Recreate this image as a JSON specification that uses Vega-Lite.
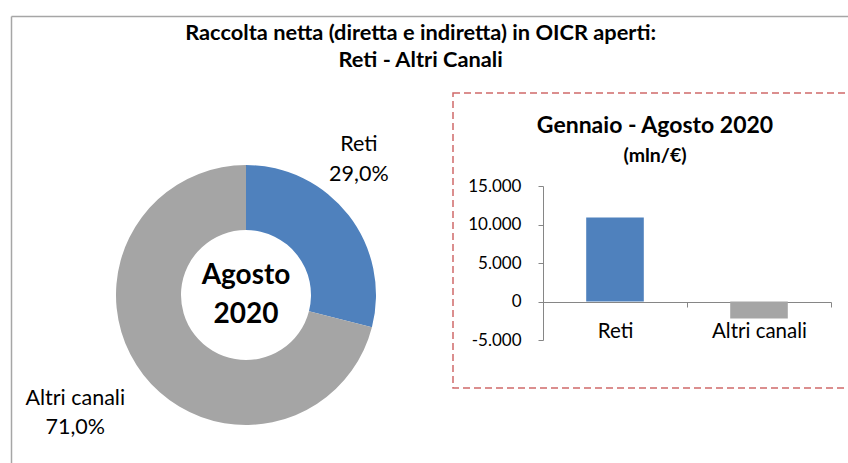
{
  "$schema": "https://vega.github.io/schema/vega-lite/v6.json",
  "padding": {"left": 8, "top": 13, "right": 0, "bottom": 0},
  "background": "white",
  "config": {
    "locale": {"number": {"decimal": ",", "thousands": ".", "grouping": [3], "currency": ["", " €"], "minus": "-"}},
    "font": "Lato",
    "view": {"stroke": null}
  },
  "title": {
    "text": ["Raccolta netta (diretta e indiretta) in OICR aperti:", "Reti - Altri Canali"],
    "fontSize": 21.8,
    "fontWeight": "bold",
    "color": "#000000",
    "anchor": "middle",
    "frame": "bounds",
    "offset": -59,
    "lineHeight": 27,
    "dx": -47
  },
  "spacing": 0,
  "bounds": "flush",
  "hconcat": [
    {
      "width": 414,
      "height": 404,
      "data": {"values": [
        {"canale": "Reti", "quota": 0.29},
        {"canale": "Altri canali", "quota": 0.71}
      ]},
      "layer": [
        {
          "data": {"values": [{"bordo": 0}]},
          "mark": {"type": "point", "opacity": 0},
          "encoding": {
            "x": {"field": "bordo", "type": "quantitative", "scale": {"domain": [0, 1], "range": [-28, 860]}, "axis": {"orient": "top", "offset": 77, "domain": true, "domainColor": "#A6A6A6", "domainWidth": 1.5, "ticks": false, "labels": false, "grid": false, "title": null}},
            "y": {"field": "bordo", "type": "quantitative", "scale": {"domain": [0, 1], "range": [-77, 520]}, "axis": {"orient": "left", "offset": 28, "domain": true, "domainColor": "#A6A6A6", "domainWidth": 1.5, "ticks": false, "labels": false, "grid": false, "title": null}}
          }
        },
        {
          "mark": {"type": "arc", "radius": 130, "radius2": 65},
          "encoding": {
            "theta": {"field": "quota", "type": "quantitative", "stack": true},
            "order": {"field": "quota", "type": "quantitative", "sort": "ascending"},
            "color": {"field": "canale", "type": "nominal", "scale": {"domain": ["Reti", "Altri canali"], "range": ["#4F81BD", "#A5A5A5"]}, "legend": null}
          }
        },
        {
          "mark": {"type": "text", "radius": 177, "dx": -27, "dy": -42, "fontSize": 21.5, "baseline": "middle"},
          "encoding": {
            "theta": {"field": "quota", "type": "quantitative", "stack": true},
            "order": {"field": "quota", "type": "quantitative", "sort": "ascending"},
            "text": {"field": "canale", "type": "nominal"},
            "color": {"value": "#000000"},
            "opacity": {"condition": {"test": "datum.canale === 'Reti'", "value": 1}, "value": 0}
          }
        },
        {
          "mark": {"type": "text", "radius": 177, "dx": -27, "dy": -12, "fontSize": 21.5, "baseline": "middle"},
          "encoding": {
            "theta": {"field": "quota", "type": "quantitative", "stack": true},
            "order": {"field": "quota", "type": "quantitative", "sort": "ascending"},
            "text": {"field": "quota", "type": "quantitative", "format": ".1%"},
            "color": {"value": "#000000"},
            "opacity": {"condition": {"test": "datum.canale === 'Reti'", "value": 1}, "value": 0}
          }
        },
        {
          "mark": {"type": "text", "radius": 206, "dx": -8, "dy": -22, "fontSize": 21.5, "baseline": "middle"},
          "encoding": {
            "theta": {"field": "quota", "type": "quantitative", "stack": true},
            "order": {"field": "quota", "type": "quantitative", "sort": "ascending"},
            "text": {"field": "canale", "type": "nominal"},
            "color": {"value": "#000000"},
            "opacity": {"condition": {"test": "datum.canale === 'Altri canali'", "value": 1}, "value": 0}
          }
        },
        {
          "mark": {"type": "text", "radius": 206, "dx": -8, "dy": 7, "fontSize": 21.5, "baseline": "middle"},
          "encoding": {
            "theta": {"field": "quota", "type": "quantitative", "stack": true},
            "order": {"field": "quota", "type": "quantitative", "sort": "ascending"},
            "text": {"field": "quota", "type": "quantitative", "format": ".1%"},
            "color": {"value": "#000000"},
            "opacity": {"condition": {"test": "datum.canale === 'Altri canali'", "value": 1}, "value": 0}
          }
        },
        {
          "data": {"values": [{"titolo": "Agosto 2020"}]},
          "mark": {"type": "text", "text": ["Agosto", "2020"], "fontSize": 28, "fontWeight": "bold", "lineHeight": 39, "baseline": "middle", "align": "center", "dy": -19, "color": "#000000"},
          "encoding": {}
        }
      ]
    },
    {
      "width": 400,
      "height": 295,
      "view": {"stroke": "#D06A6A", "strokeWidth": 1.5, "strokeDash": [7, 4]},
      "title": {
        "text": "Gennaio - Agosto 2020",
        "subtitle": "(mln/€)",
        "fontSize": 23,
        "fontWeight": "bold",
        "color": "#000000",
        "subtitleFontSize": 19.5,
        "subtitleFontWeight": "bold",
        "subtitleColor": "#000000",
        "subtitlePadding": 9,
        "anchor": "middle",
        "frame": "group",
        "offset": -72,
        "dx": 2
      },
      "data": {"values": [
        {"canale": "Reti", "raccolta": 10900},
        {"canale": "Altri canali", "raccolta": -2200}
      ]},
      "mark": {"type": "bar", "width": {"band": 0.4}},
      "encoding": {
        "x": {
          "field": "canale", "type": "nominal", "sort": ["Reti", "Altri canali"],
          "scale": {"range": [90, 378], "paddingInner": 0, "paddingOuter": 0},
          "axis": {"title": null, "labelAngle": 0, "orient": "bottom", "offset": -86, "tickBand": "extent", "domainColor": "#868686", "tickColor": "#868686", "tickSize": 5, "labelFontSize": 20.5, "labelColor": "#000000", "labelPadding": 14, "labelFont": "Lato", "labelFontWeight": "normal"}
        },
        "y": {
          "field": "raccolta", "type": "quantitative",
          "scale": {"domain": [-5000, 15000], "range": [247, 93], "nice": false, "zero": false},
          "axis": {"title": null, "values": [-5000, 0, 5000, 10000, 15000], "format": ",.0f", "grid": false, "offset": -90, "domainColor": "#868686", "tickColor": "#868686", "tickSize": 5, "labelFontSize": 17, "labelColor": "#000000", "labelPadding": 17, "labelFont": "Lato"}
        },
        "color": {"field": "canale", "type": "nominal", "scale": {"domain": ["Reti", "Altri canali"], "range": ["#4F81BD", "#A5A5A5"]}, "legend": null}
      }
    }
  ]
}
